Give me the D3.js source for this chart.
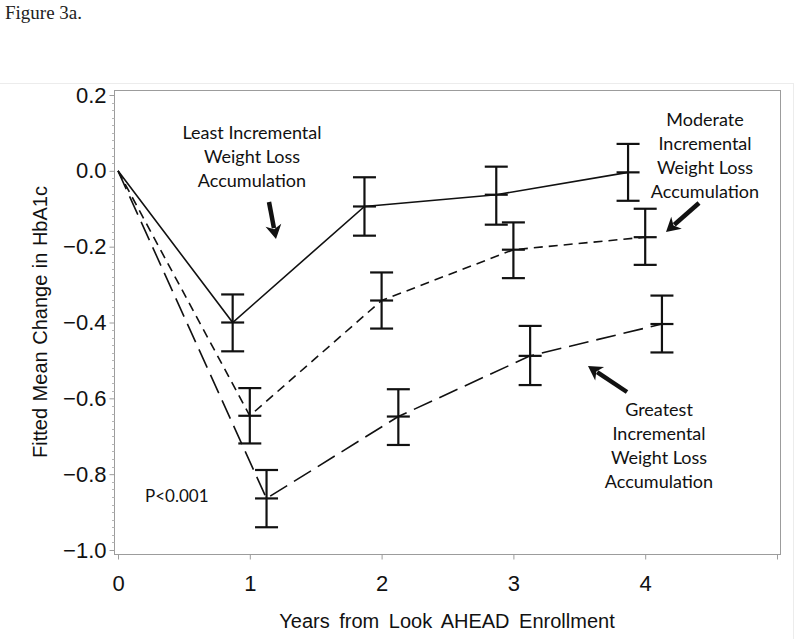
<!DOCTYPE html>
<html>
<head>
<meta charset="utf-8">
<script src="https://cdn.jsdelivr.net/npm/d3@7"></script>
<style>
  html, body { margin: 0; padding: 0; background: #fff; }
  svg { display: block; }
</style>
</head>
<body>
<svg id="chart" width="800" height="639"></svg>
<script>
// ---- data ----
const years = [0, 1, 2, 3, 4];
const seriesNames = ["Least", "Moderate", "Greatest"];
const leastMean  = [0, -0.400, -0.094, -0.063, -0.004];
const leastLow   = [null, -0.476, -0.171, -0.142, -0.079];
const leastHigh  = [null, -0.326, -0.017, 0.011, 0.071];
const modMean    = [0, -0.646, -0.342, -0.208, -0.175];
const modLow     = [null, -0.719, -0.416, -0.283, -0.248];
const modHigh    = [null, -0.573, -0.268, -0.136, -0.100];
const greatMean  = [0, -0.864, -0.648, -0.488, -0.404];
const greatLow   = [null, -0.940, -0.723, -0.565, -0.479];
const greatHigh  = [null, -0.789, -0.576, -0.409, -0.329];
const yTicks = [-1.0, -0.8, -0.6, -0.4, -0.2, 0.0, 0.2];
const xTicks = [0, 1, 2, 3, 4, 5];
const xTickLabels = ["0", "1", "2", "3", "4", ""];

// ---- layout / style ----
const svg = d3.select("#chart");
const frame = {left: 114, right: 780, top: 90, bottom: 554};
const x = d3.scaleLinear().domain([0, 5]).range([118, 777]);
const y = d3.scaleLinear().domain([-1.0, 0.2]).range([550, 95]);
const axisColor = "#9c9c9c";
const ink = "#111";
const sansAxis = "'Liberation Sans', Arial, sans-serif";
const sansNote = "Lato, 'Open Sans', sans-serif";

const series = [
  {name: seriesNames[0], mean: leastMean, low: leastLow, high: leastHigh, offset: -0.13, dash: null},
  {name: seriesNames[1], mean: modMean,   low: modLow,   high: modHigh,   offset: 0,     dash: "9,6"},
  {name: seriesNames[2], mean: greatMean, low: greatLow, high: greatHigh, offset: 0.127, dash: "20,8"}
];

// faint outer border
svg.append("line").attr("x1", 0).attr("x2", 793).attr("y1", 83.5).attr("y2", 83.5)
  .attr("stroke", "#ececec").attr("stroke-width", 1);
svg.append("line").attr("x1", 793.5).attr("x2", 793.5).attr("y1", 83).attr("y2", 639)
  .attr("stroke", "#ececec").attr("stroke-width", 1);

// figure caption
svg.append("text").attr("x", 5).attr("y", 19)
  .attr("font-family", "'Liberation Serif', 'DejaVu Serif', serif")
  .attr("font-size", 19).attr("fill", "#222").text("Figure 3a.");

// plot frame
svg.append("rect")
  .attr("x", frame.left + 0.5).attr("y", frame.top + 0.5)
  .attr("width", frame.right - frame.left).attr("height", frame.bottom - frame.top)
  .attr("fill", "none").attr("stroke", axisColor).attr("stroke-width", 1);

// y axis
const yAxis = d3.axisLeft(y).tickValues(yTicks).tickSize(5).tickPadding(3)
  .tickFormat(d3.format(".1f"));
const gy = svg.append("g").attr("transform", `translate(${frame.left + 0.5},0)`).call(yAxis);
gy.select(".domain").remove();
gy.selectAll(".tick line").attr("stroke", axisColor);
gy.selectAll(".tick text").attr("font-family", sansAxis).attr("font-size", 22).attr("fill", ink);

// y minor ticks
const minor = d3.range(-1.0, 0.2001, 0.02).filter(v => !yTicks.some(t => Math.abs(t - v) < 1e-6));
svg.append("g").selectAll("line").data(minor).join("line")
  .attr("x1", frame.left - 2).attr("x2", frame.left + 0.5)
  .attr("y1", d => Math.round(y(d)) + 0.5).attr("y2", d => Math.round(y(d)) + 0.5)
  .attr("stroke", "#b5b5b5").attr("stroke-width", 1);

// x axis
const xAxis = d3.axisBottom(x).tickValues(xTicks).tickSize(5).tickPadding(16)
  .tickFormat((d, i) => xTickLabels[i]);
const gx = svg.append("g").attr("transform", `translate(0,${frame.bottom + 0.5})`).call(xAxis);
gx.select(".domain").remove();
gx.selectAll(".tick line").attr("stroke", axisColor);
gx.selectAll(".tick text").attr("font-family", sansAxis).attr("font-size", 22).attr("fill", ink);

// axis titles
svg.append("text").attr("x", (frame.left + frame.right) / 2).attr("y", 628)
  .attr("text-anchor", "middle").attr("font-family", sansAxis).attr("font-size", 20)
  .attr("word-spacing", 4).attr("fill", ink).text("Years from Look AHEAD Enrollment");
svg.append("text")
  .attr("transform", `translate(47,${(frame.top + frame.bottom) / 2}) rotate(-90)`)
  .attr("text-anchor", "middle").attr("font-family", sansAxis).attr("font-size", 20)
  .attr("word-spacing", 1).attr("fill", ink).text("Fitted Mean Change in HbA1c");

// series lines and error bars
const line = d3.line().x(d => x(d.x)).y(d => y(d.v));
const capHalf = 11.5;
series.forEach(s => {
  const pts = years.map((yr, i) => ({x: yr === 0 ? 0 : yr + s.offset, v: s.mean[i], lo: s.low[i], hi: s.high[i]}));
  svg.append("path").datum(pts).attr("d", line)
    .attr("fill", "none").attr("stroke", ink).attr("stroke-width", 1.6)
    .attr("stroke-dasharray", s.dash);
  const bars = pts.filter(p => p.lo !== null);
  const g = svg.append("g").attr("stroke", ink).attr("stroke-width", 2.2);
  g.selectAll(".v").data(bars).join("line")
    .attr("x1", d => x(d.x)).attr("x2", d => x(d.x))
    .attr("y1", d => y(d.hi)).attr("y2", d => y(d.lo));
  g.selectAll(".hi").data(bars).join("line")
    .attr("x1", d => x(d.x) - capHalf).attr("x2", d => x(d.x) + capHalf)
    .attr("y1", d => y(d.hi)).attr("y2", d => y(d.hi));
  g.selectAll(".lo").data(bars).join("line")
    .attr("x1", d => x(d.x) - capHalf).attr("x2", d => x(d.x) + capHalf)
    .attr("y1", d => y(d.lo)).attr("y2", d => y(d.lo));
  g.selectAll(".mid").data(bars).join("line")
    .attr("x1", d => x(d.x) - capHalf).attr("x2", d => x(d.x) + capHalf)
    .attr("y1", d => y(d.v)).attr("y2", d => y(d.v));
});

// annotations
function noteBlock(cx, y0, lines) {
  const t = svg.append("text").attr("text-anchor", "middle")
    .attr("font-family", sansNote).attr("font-size", 18).attr("fill", ink);
  lines.forEach((l, i) => t.append("tspan").attr("x", cx).attr("y", y0 + i * 24).text(l));
}
function arrow(x1, y1, x2, y2) {
  const ang = Math.atan2(y2 - y1, x2 - x1);
  const hl = 14, hw = 8;
  const bx = x2 - hl * Math.cos(ang), by = y2 - hl * Math.sin(ang);
  svg.append("line").attr("x1", x1).attr("y1", y1).attr("x2", bx + 3 * Math.cos(ang)).attr("y2", by + 3 * Math.sin(ang))
    .attr("stroke", ink).attr("stroke-width", 4.5);
  const px = -Math.sin(ang), py = Math.cos(ang);
  svg.append("path")
    .attr("d", `M${x2},${y2} L${bx + hw * px},${by + hw * py} L${bx + 4 * Math.cos(ang)},${by + 4 * Math.sin(ang)} L${bx - hw * px},${by - hw * py} Z`)
    .attr("fill", ink);
}
noteBlock(252, 139, ["Least Incremental", "Weight Loss", "Accumulation"]);
arrow(269, 202, 276, 239);
noteBlock(705, 126, ["Moderate", "Incremental", "Weight Loss", "Accumulation"]);
arrow(699, 203, 666, 232);
noteBlock(659, 416, ["Greatest", "Incremental", "Weight Loss", "Accumulation"]);
arrow(627, 392, 588, 366);
svg.append("text").attr("x", 145).attr("y", 502)
  .attr("font-family", sansNote).attr("font-size", 17).attr("fill", ink).text("P<0.001");
</script>
</body>
</html>
